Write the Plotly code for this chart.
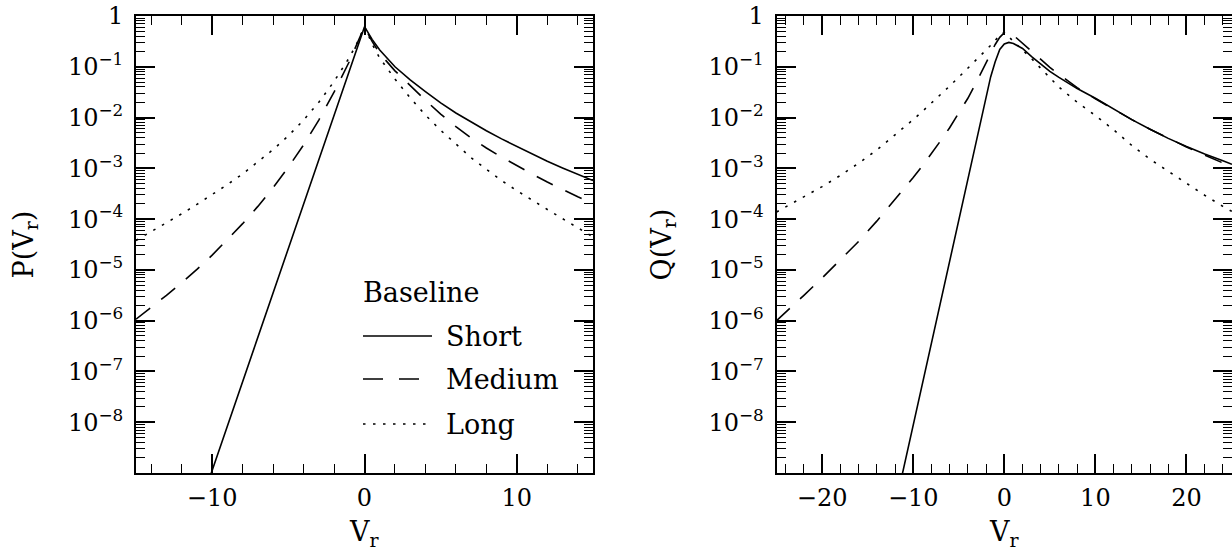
import plotly.graph_objects as go

# ---------------- data ----------------
SERIES = ["Short", "Medium", "Long"]
LEGEND_TITLE = "Baseline"

# left panel: P(V_r)
V_LEFT = [-15, -14, -13, -12, -11, -10, -9, -8, -7, -6, -5, -4, -3, -2, -1, -0.5, 0,
          0.5, 1, 2, 3, 4, 5, 6, 7, 8, 9, 10, 11, 12, 13, 14, 15]
P_SHORT = [None, None, None, None, 1.5e-10, 1.12e-9, 8.32e-9, 6.31e-8, 4.68e-7, 3.55e-6,
           2.63e-5, 1.95e-4, 1.48e-3, 1.10e-2, 8.32e-2, 0.225, 0.617,
           0.347, 0.214, 0.100, 0.0550, 0.0324, 0.0195, 0.0123, 8.13e-3, 5.50e-3, 3.80e-3,
           2.69e-3, 1.91e-3, 1.38e-3, 1.02e-3, 7.59e-4, 5.75e-4]
P_MEDIUM = [1.07e-6, 1.82e-6, 3.16e-6, 5.62e-6, 1.02e-5, 1.95e-5, 3.89e-5, 8.13e-5, 1.78e-4,
            4.17e-4, 1.05e-3, 2.88e-3, 8.91e-3, 3.16e-2, 0.126, 0.282, 0.617,
            0.316, 0.182, 0.0832, 0.0417, 0.0219, 0.0117, 6.61e-3, 3.98e-3, 2.51e-3, 1.66e-3,
            1.12e-3, 7.76e-4, 5.37e-4, 3.80e-4, 2.75e-4, 2.04e-4]
P_LONG = [3.80e-5, 5.62e-5, 8.41e-5, 1.27e-4, 1.95e-4, 3.02e-4, 4.79e-4, 7.76e-4, 1.32e-3,
          2.34e-3, 4.37e-3, 8.91e-3, 2.0e-2, 5.13e-2, 0.151, 0.288, 0.617,
          0.282, 0.148, 0.0575, 0.0245, 0.0112, 5.62e-3, 2.95e-3, 1.62e-3, 9.55e-4, 5.75e-4,
          3.63e-4, 2.34e-4, 1.55e-4, 1.02e-4, 6.76e-5, 4.47e-5]

# right panel: Q(V_r)
V_RIGHT = [-25, -24, -22, -20, -18, -16, -14, -12, -11, -10, -9, -8, -7, -6, -5, -4, -3, -2,
           -1.5, -1, -0.5, 0, 0.5, 1, 2, 3, 4, 5, 6, 8, 10, 12, 14, 16, 18, 20, 22, 24, 25]
Q_SHORT = [None, None, None, None, None, None, None, 2.14e-10, 1.38e-9, 8.91e-9, 5.75e-8,
           3.72e-7, 2.45e-6, 1.58e-5, 1.02e-4, 6.61e-4, 4.27e-3, 2.75e-2,
           6.31e-2, 0.126, 0.219, 0.282, 0.302, 0.288, 0.229, 0.158, 0.112, 0.0813, 0.0617,
           0.0372, 0.0240, 0.0145, 9.12e-3, 5.89e-3, 3.89e-3, 2.69e-3, 1.91e-3, 1.41e-3, 1.20e-3]
Q_MEDIUM = [1.0e-6, 1.45e-6, 3.16e-6, 6.92e-6, 1.55e-5, 3.63e-5, 9.12e-5, 2.40e-4, 3.94e-4,
            6.61e-4, 1.12e-3, 1.95e-3, 3.47e-3, 6.31e-3, 1.20e-2, 2.40e-2, 5.25e-2, 0.123,
            0.186, 0.275, 0.380, 0.468, 0.501, 0.417, 0.282, 0.195, 0.138, 0.0977, 0.0708,
            0.0389, 0.0234, 0.0145, 9.12e-3, 5.89e-3, 3.89e-3, 2.63e-3, 1.82e-3, 1.26e-3, 1.07e-3]
Q_LONG = [1.38e-4, 1.74e-4, 2.75e-4, 4.37e-4, 7.24e-4, 1.26e-3, 2.29e-3, 4.47e-3, 6.38e-3,
          9.12e-3, 1.32e-2, 1.91e-2, 2.82e-2, 4.17e-2, 6.24e-2, 9.33e-2, 0.141, 0.214,
          0.263, 0.331, 0.417, 0.479, 0.398, 0.316, 0.214, 0.145, 0.0933, 0.0617, 0.0398,
          0.0200, 0.0110, 5.75e-3, 2.82e-3, 1.51e-3, 8.71e-4, 5.01e-4, 2.95e-4, 1.78e-4, 1.41e-4]

Y_TICK_VALS = [1e-8, 1e-7, 1e-6, 1e-5, 1e-4, 1e-3, 1e-2, 1e-1, 1]
Y_TICK_TEXT = ["10<sup>−8</sup>", "10<sup>−7</sup>", "10<sup>−6</sup>", "10<sup>−5</sup>",
               "10<sup>−4</sup>", "10<sup>−3</sup>", "10<sup>−2</sup>", "10<sup>−1</sup>", "1"]
XL_TICK_VALS = [-10, 0, 10]
XL_TICK_TEXT = ["−10", "0", "10"]
XR_TICK_VALS = [-20, -10, 0, 10, 20]
XR_TICK_TEXT = ["−20", "−10", "0", "10", "20"]

# ---------------- layout helpers ----------------
W, H = 1232, 556
def fx(p):
    return p / W
def fy(p):
    return 1 - p / H

L_X0, L_X1 = 136, 593
R_X0, R_X1 = 776.6, 1232
Y_TOP, Y_BOT = 16, 473

DASHES = ["solid", "18px,14px", "2.5px,7.5px"]
LW = 1.6
TICK_FONT = dict(family="DejaVu Serif", size=24, color="black")
TEXT_FONT = dict(family="DejaVu Serif", size=27, color="black")

fig = go.Figure()
for name, vals, dash in zip(SERIES, [P_SHORT, P_MEDIUM, P_LONG], DASHES):
    fig.add_trace(go.Scatter(x=V_LEFT, y=vals, mode="lines", name=name,
                             line=dict(color="black", width=LW, dash=dash),
                             xaxis="x", yaxis="y", showlegend=False))
for name, vals, dash in zip(SERIES, [Q_SHORT, Q_MEDIUM, Q_LONG], DASHES):
    fig.add_trace(go.Scatter(x=V_RIGHT, y=vals, mode="lines", name=name,
                             line=dict(color="black", width=LW, dash=dash),
                             xaxis="x2", yaxis="y2", showlegend=False))

minor_y = [k * 10.0 ** n for n in range(-9, 0) for k in range(2, 10)]

def yaxis_cfg(anchor):
    return dict(type="log", range=[-9, 0], domain=[fy(Y_BOT), fy(Y_TOP)], anchor=anchor,
                automargin=False, ticklabeloverflow="allow",
                tickmode="array", tickvals=Y_TICK_VALS, ticktext=Y_TICK_TEXT,
                ticks="inside", ticklen=19, tickwidth=1.5, tickcolor="black",
                minor=dict(tickmode="array", tickvals=minor_y, ticks="inside", ticklen=9,
                           tickwidth=1.2, tickcolor="black", showgrid=False),
                showline=True, linewidth=2, linecolor="black", mirror="allticks",
                showgrid=False, zeroline=False, tickfont=TICK_FONT, ticklabelstandoff=6)

def xaxis_cfg(anchor, rng, dom, tv, tt):
    return dict(range=rng, domain=dom, anchor=anchor, automargin=False,
                ticklabeloverflow="allow",
                tickmode="array", tickvals=tv, ticktext=tt,
                ticks="inside", ticklen=19, tickwidth=1.5, tickcolor="black",
                minor=dict(tickmode="linear", tick0=0, dtick=2, ticks="inside", ticklen=9,
                           tickwidth=1.2, tickcolor="black", showgrid=False),
                showline=True, linewidth=2, linecolor="black", mirror="allticks",
                showgrid=False, zeroline=False, tickfont=TICK_FONT, ticklabelstandoff=2)

fig.update_layout(
    width=W, height=H, margin=dict(l=0, r=0, t=0, b=0, autoexpand=False),
    paper_bgcolor="white", plot_bgcolor="white", showlegend=False,
    xaxis=xaxis_cfg("y", [-15, 15], [fx(L_X0), fx(L_X1)], XL_TICK_VALS, XL_TICK_TEXT),
    yaxis=yaxis_cfg("x"),
    xaxis2=xaxis_cfg("y2", [-25, 25], [fx(R_X0), fx(R_X1)], XR_TICK_VALS, XR_TICK_TEXT),
    yaxis2=yaxis_cfg("x2"),
)

ann = []
ymid = fy((Y_TOP + Y_BOT) / 2)
ann.append(dict(text="P(V<sub>r</sub>)", x=fx(25), y=ymid, xref="paper", yref="paper",
                textangle=-90, showarrow=False, font=TEXT_FONT, xanchor="center", yanchor="middle"))
ann.append(dict(text="Q(V<sub>r</sub>)", x=fx(663), y=ymid, xref="paper", yref="paper",
                textangle=-90, showarrow=False, font=TEXT_FONT, xanchor="center", yanchor="middle"))
ann.append(dict(text="V<sub>r</sub>", x=fx((L_X0 + L_X1) / 2), y=fy(533), xref="paper", yref="paper",
                showarrow=False, font=TEXT_FONT, xanchor="center", yanchor="middle"))
ann.append(dict(text="V<sub>r</sub>", x=fx(1004), y=fy(533), xref="paper", yref="paper",
                showarrow=False, font=TEXT_FONT, xanchor="center", yanchor="middle"))

# legend block (left panel)
ann.append(dict(text=LEGEND_TITLE, x=fx(361), y=fy(292), xref="paper", yref="paper",
                showarrow=False, font=TEXT_FONT, xanchor="left", yanchor="middle"))
LEG_ROWS = [336, 379, 424]
for name, dash, yy in zip(SERIES, DASHES, LEG_ROWS):
    fig.add_shape(type="line", xref="paper", yref="paper", x0=fx(363), x1=fx(432),
                  y0=fy(yy), y1=fy(yy), line=dict(color="black", width=LW,
                  dash="20px,16px" if dash == DASHES[1] else dash))
    ann.append(dict(text=name, x=fx(444), y=fy(yy), xref="paper", yref="paper",
                    showarrow=False, font=TEXT_FONT, xanchor="left", yanchor="middle"))

fig.update_layout(annotations=ann)
# remove the browser's default 8px page margin so the figure fills the window exactly
fig.write_html("out.html", config={"displayModeBar": False},
               post_script="document.body.style.margin='0';")
